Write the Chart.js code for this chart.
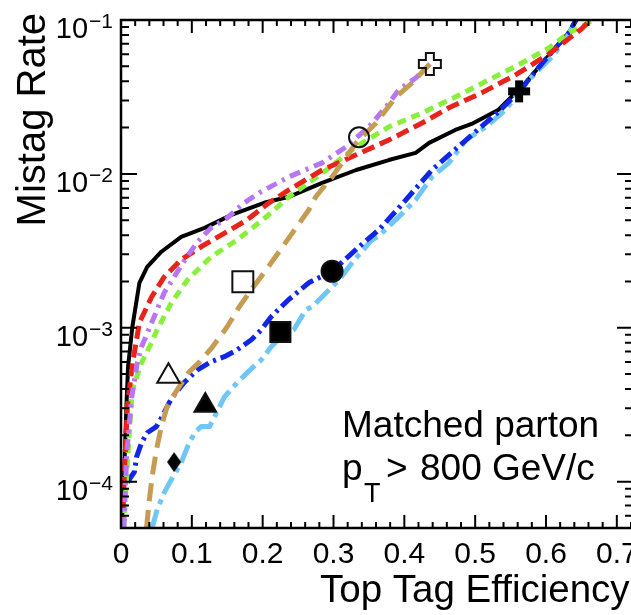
<!DOCTYPE html>
<html>
<head>
<meta charset="utf-8">
<script src="https://cdn.jsdelivr.net/npm/chart.js@4.4.1/dist/chart.umd.min.js"></script>
<style>
  html, body { margin: 0; padding: 0; background: #fff; overflow: hidden; }
  #wrap { width: 631px; height: 615px; }
</style>
</head>
<body>
<div id="wrap"><canvas id="roc" width="631" height="615"></canvas></div>
<script>
// ROC curves: top tag efficiency (x) vs mistag rate (y)
const effBlack = [0.001,0.004,0.008,0.010,0.016,0.026,0.037,0.057,0.085,0.118,0.156,0.202,0.237,0.284,0.332,0.378,0.416,0.435,0.472,0.495,0.533,0.554,0.561,0.596,0.632,0.645];
const misBlack = [5.0e-5,1.0e-4,3.4e-4,5.6e-4,1.01e-3,1.96e-3,2.49e-3,3.12e-3,3.90e-3,4.46e-3,5.42e-3,6.49e-3,7.10e-3,8.75e-3,1.06e-2,1.23e-2,1.37e-2,1.59e-2,1.93e-2,2.11e-2,2.61e-2,3.26e-2,3.44e-2,5.33e-2,8.24e-2,1.05e-1];

const effRed = [0.002,0.005,0.009,0.016,0.026,0.043,0.061,0.085,0.113,0.142,0.178,0.209,0.237,0.284,0.332,0.378,0.425,0.463,0.509,0.557,0.604,0.650,0.663];
const misRed = [5.0e-5,1.20e-4,3.07e-4,5.75e-4,1.08e-3,1.58e-3,2.14e-3,2.77e-3,3.36e-3,4.02e-3,5.02e-3,6.49e-3,7.87e-3,1.06e-2,1.33e-2,1.66e-2,2.14e-2,2.69e-2,3.36e-2,4.40e-2,6.01e-2,8.75e-2,1.0e-1];

const effGreen = [0.004,0.009,0.012,0.016,0.029,0.043,0.051,0.071,0.094,0.127,0.164,0.205,0.237,0.284,0.332,0.378,0.425,0.472,0.505,0.561,0.604,0.632,0.657,0.666];
const misGreen = [5.0e-5,1.33e-4,2.18e-4,3.95e-4,5.93e-4,8.0e-4,9.7e-4,1.45e-3,2.05e-3,2.89e-3,3.72e-3,5.26e-3,7.10e-3,1.01e-2,1.50e-2,2.02e-2,2.49e-2,3.16e-2,3.78e-2,5.11e-2,6.58e-2,8.24e-2,9.42e-2,1.0e-1];

const effPurple = [0.004,0.008,0.015,0.023,0.029,0.051,0.061,0.075,0.092,0.108,0.127,0.150,0.174,0.195,0.237,0.284,0.318,0.350,0.374,0.392,0.416,0.436];
const misPurple = [5.0e-5,1.5e-4,3.5e-4,5.93e-4,7.53e-4,1.31e-3,1.69e-3,2.14e-3,2.85e-3,3.61e-3,4.46e-3,5.18e-3,6.49e-3,7.53e-3,9.57e-3,1.18e-2,1.50e-2,2.02e-2,2.72e-2,3.51e-2,4.20e-2,5.18e-2];

const effTan = [0.036,0.040,0.044,0.050,0.057,0.065,0.080,0.095,0.111,0.129,0.149,0.167,0.187,0.205,0.242,0.265,0.275,0.298,0.332,0.360,0.388,0.411,0.436];
const misTan = [5.0e-5,7.6e-5,1.08e-4,1.61e-4,2.28e-4,3.07e-4,4.0e-4,5.1e-4,6.0e-4,7.5e-4,1.0e-3,1.37e-3,1.85e-3,2.38e-3,4.14e-3,5.83e-3,7.1e-3,9.57e-3,1.59e-2,2.14e-2,3.16e-2,3.9e-2,5.18e-2];

const effBlue = [0.009,0.019,0.022,0.029,0.037,0.050,0.058,0.068,0.073,0.089,0.108,0.127,0.146,0.164,0.184,0.198,0.212,0.235,0.265,0.298,0.336,0.364,0.392,0.439,0.487,0.533,0.562,0.596,0.632,0.645];
const misBlue = [9.9e-5,1.16e-4,1.45e-4,1.79e-4,2.08e-4,2.28e-4,2.64e-4,3.26e-4,3.56e-4,4.40e-4,5.33e-4,6.01e-4,6.49e-4,7.19e-4,8.36e-4,9.7e-4,1.18e-3,1.5e-3,1.96e-3,2.33e-3,3.36e-3,4.33e-3,6.0e-3,1.06e-2,1.66e-2,2.53e-2,3.44e-2,5.33e-2,8.24e-2,1.05e-1];

const effLight = [0.044,0.051,0.061,0.071,0.085,0.094,0.104,0.113,0.125,0.132,0.146,0.164,0.178,0.198,0.212,0.226,0.244,0.261,0.270,0.284,0.308,0.326,0.354,0.364,0.392,0.416,0.439,0.463,0.487,0.515,0.543,0.561,0.580,0.608,0.627,0.641];
const misLight = [5.0e-5,6.58e-5,8.49e-5,1.03e-4,1.33e-4,1.69e-4,2.08e-4,2.28e-4,2.28e-4,2.64e-4,3.56e-4,4.40e-4,5.11e-4,6.19e-4,7.53e-4,8.75e-4,9.7e-4,1.31e-3,1.37e-3,1.59e-3,2.05e-3,2.64e-3,3.72e-3,3.95e-3,5.26e-3,6.78e-3,9.57e-3,1.18e-2,1.66e-2,2.02e-2,2.61e-2,3.36e-2,4.27e-2,5.75e-2,7.41e-2,9.6e-2];

// single working points
const markEff = [0.436, 0.336, 0.172, 0.067, 0.562, 0.298, 0.225, 0.119, 0.075];
const markMis = [5.18e-2, 1.73e-2, 1.99e-3, 4.85e-4, 3.44e-2, 2.33e-3, 9.4e-4, 3.13e-4, 1.34e-4];

// axis ticks
const xTicks = [0, 0.1, 0.2, 0.3, 0.4, 0.5, 0.6, 0.7];
const xTickLabels = ['0', '0.1', '0.2', '0.3', '0.4', '0.5', '0.6', '0.7'];
const yDecades = [-1, -2, -3, -4];
const yExpLabels = ['\u22121', '\u22122', '\u22123', '\u22124'];

const FONT = '"Liberation Sans", Arial, Helvetica, sans-serif';

function pts(xs, ys) {
  return xs.map((v, i) => ({ x: v, y: ys[i] }));
}

function curve(xs, ys, color, dash, width) {
  return {
    data: pts(xs, ys),
    borderColor: color,
    borderWidth: width || 5,
    borderDash: dash,
    borderCapStyle: 'butt',
    borderJoinStyle: 'round',
    pointRadius: 0,
    tension: 0,
    fill: false
  };
}

// plus outline / filled plus / diamond marker images
function plusMarker(size, arm, filled) {
  const c = document.createElement('canvas');
  c.width = size + 4; c.height = size + 4;
  const g = c.getContext('2d');
  const o = 2, a0 = o + (size - arm) / 2, a1 = a0 + arm, e = o + size;
  g.beginPath();
  g.moveTo(a0, o); g.lineTo(a1, o); g.lineTo(a1, a0); g.lineTo(e, a0);
  g.lineTo(e, a1); g.lineTo(a1, a1); g.lineTo(a1, e); g.lineTo(a0, e);
  g.lineTo(a0, a1); g.lineTo(o, a1); g.lineTo(o, a0); g.lineTo(a0, a0);
  g.closePath();
  if (filled) { g.fillStyle = '#000'; g.fill(); }
  else { g.strokeStyle = '#111'; g.lineWidth = 2; g.stroke(); }
  return c;
}

function diamondMarker(w, h) {
  const c = document.createElement('canvas');
  c.width = w + 2; c.height = h + 2;
  const g = c.getContext('2d');
  g.beginPath();
  g.moveTo(1 + w / 2, 1); g.lineTo(1 + w, 1 + h / 2);
  g.lineTo(1 + w / 2, 1 + h); g.lineTo(1, 1 + h / 2);
  g.closePath();
  g.fillStyle = '#000'; g.fill();
  return c;
}

const markStyles = [plusMarker(22, 8, false), 'circle', 'rect', 'triangle',
                    plusMarker(22, 8, true), 'circle', 'rect', 'triangle', diamondMarker(14, 20)];
const markRadius = [10, 10, 14.8, 13, 10, 10.5, 14.2, 12.5, 10];
const markFill = ['rgba(0,0,0,0)', 'rgba(0,0,0,0)', 'rgba(0,0,0,0)', 'rgba(0,0,0,0)',
                  '#000', '#000', '#000', '#000', '#000'];

// frame, inward ticks, tick labels and texts
const framePlugin = {
  id: 'frame',
  afterDraw(chart) {
    const { ctx, chartArea: a, scales: { x, y } } = chart;
    ctx.save();
    ctx.strokeStyle = '#000';
    ctx.lineWidth = 2.5;
    ctx.beginPath();
    ctx.moveTo(a.right + 2, a.top); ctx.lineTo(a.left, a.top);
    ctx.lineTo(a.left, a.bottom); ctx.lineTo(a.right + 2, a.bottom);
    ctx.stroke();

    ctx.lineWidth = 2;
    ctx.beginPath();
    for (let i = 0; i <= 36; i++) {
      const v = i * 0.02;
      if (v > x.max + 1e-9) break;
      const px = x.getPixelForValue(v);
      const len = i % 5 === 0 ? 13 : 6;
      ctx.moveTo(px, a.bottom); ctx.lineTo(px, a.bottom - len);
      ctx.moveTo(px, a.top); ctx.lineTo(px, a.top + len);
    }
    for (let e = -5; e <= -1; e++) {
      for (let m = 1; m <= 9; m++) {
        const v = m * Math.pow(10, e);
        if (v < y.min * 0.999 || v > y.max * 1.001) continue;
        const py = y.getPixelForValue(v);
        const len = m === 1 ? 16 : 8;
        ctx.moveTo(a.left, py); ctx.lineTo(a.left + len, py);
        ctx.moveTo(a.right + 2, py); ctx.lineTo(a.right + 2 - len, py);
      }
    }
    ctx.stroke();

    ctx.fillStyle = '#000';
    ctx.textBaseline = 'alphabetic';

    ctx.font = '30px ' + FONT;
    ctx.textAlign = 'center';
    xTicks.forEach((v, i) => {
      ctx.fillText(xTickLabels[i], x.getPixelForValue(v), a.bottom + 35);
    });

    ctx.textAlign = 'right';
    yDecades.forEach((e, i) => {
      const py = y.getPixelForValue(Math.pow(10, e));
      const right = a.left - 8;
      ctx.font = '21px ' + FONT;
      const ew = ctx.measureText(yExpLabels[i]).width;
      ctx.fillText(yExpLabels[i], right, py + 8);
      ctx.font = '29px ' + FONT;
      ctx.fillText('10', right - ew - 1, py + 18);
    });

    // axis titles
    ctx.font = '40px ' + FONT;
    ctx.save();
    ctx.translate(45, 13);
    ctx.rotate(-Math.PI / 2);
    ctx.textAlign = 'right';
    ctx.fillText('Mistag Rate', 0, 0);
    ctx.restore();

    ctx.font = '38.5px ' + FONT;
    ctx.textAlign = 'left';
    ctx.fillText('Top Tag Efficiency', 320, 602);

    // selection note
    ctx.font = '37px ' + FONT;
    ctx.fillText('Matched parton', 342, 437);
    ctx.fillText('p', 342, 480);
    ctx.font = '27px ' + FONT;
    ctx.fillText('T', 364, 502);
    ctx.font = '37px ' + FONT;
    ctx.fillText('>', 386, 480);
    ctx.fillText('800 GeV/c', 420, 480);
    ctx.restore();
  }
};

new Chart(document.getElementById('roc'), {
  type: 'line',
  data: {
    datasets: [
      {
        data: pts(markEff, markMis),
        showLine: false,
        pointStyle: markStyles,
        pointRadius: markRadius,
        pointBackgroundColor: markFill,
        pointBorderColor: '#111',
        pointBorderWidth: 2
      },
      curve(effTan, misTan, '#c69c53', [18, 9]),
      curve(effPurple, misPurple, '#b676f6', [11, 6, 3, 6]),
      curve(effRed, misRed, '#e8231c', [13, 6]),
      curve(effGreen, misGreen, '#88f03c', [9, 6]),
      curve(effBlue, misBlue, '#1226e8', [14, 5, 3, 5]),
      curve(effLight, misLight, '#70c6f6', [19, 6, 5, 6]),
      curve(effBlack, misBlack, '#000', [], 4)
    ]
  },
  options: {
    responsive: false,
    animation: false,
    devicePixelRatio: 1,
    layout: { autoPadding: false, padding: { left: 121, top: 20, right: 0, bottom: 87 } },
    plugins: { legend: { display: false }, tooltip: { enabled: false } },
    scales: {
      x: { type: 'linear', min: 0, max: 0.72, display: false },
      y: { type: 'logarithmic', min: 5e-5, max: 0.1, display: false }
    }
  },
  plugins: [framePlugin]
});
</script>
</body>
</html>
